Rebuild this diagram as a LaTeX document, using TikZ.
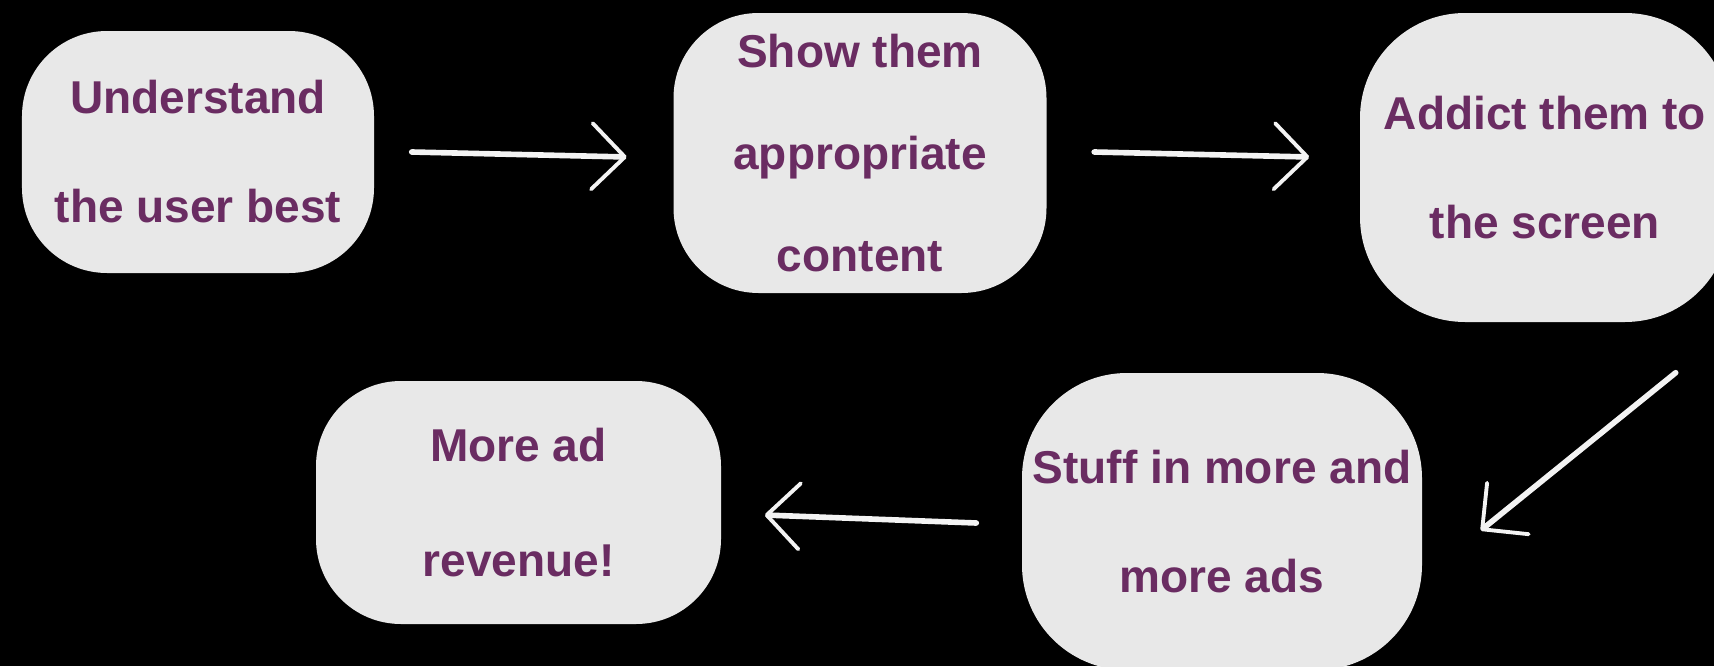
\documentclass[tikz,border=0pt]{standalone}
\usepackage{fontspec}
\setmainfont{Liberation Sans}
\usepackage{tikz}
\usetikzlibrary{arrows.meta}
\definecolor{boxgray}{RGB}{232,232,232}
\definecolor{adpurple}{RGB}{106,44,98}
\definecolor{chalk}{RGB}{243,243,243}

\begin{document}
\begin{tikzpicture}[
  stepbox/.style = {fill = boxgray, text = adpurple, rounded corners = 0.85cm, inner sep = 0pt,
    align = center, font = \fontsize{13.1pt}{31pt}\selectfont\bfseries},
  chalkarrow/.style = {chalk, line width = 1.6pt, line cap = round,
    -{Straight Barb[round, length = 0.33cm, width = 0.66cm, line width = 1.1pt]}}
 ]
 \fill[black] (0, 0) rectangle (17.14, 6.66);
 \useasboundingbox (0, 0) rectangle (17.14, 6.66);
 \node[stepbox, minimum width = 3.52cm, minimum height = 2.42cm] (understand) at (1.98, 5.14) {Understand\\the user best};
 \node[stepbox, minimum width = 3.73cm, minimum height = 2.80cm, font = \fontsize{13.1pt}{29pt}\selectfont\bfseries] (show) at (8.60, 5.13) {Show them\\appropriate\\content};
 \node[stepbox, minimum width = 3.70cm, minimum height = 3.09cm, rounded corners = 1.05cm] (addict) at (15.45, 4.985) {Addict them to\\the screen};
 \node[stepbox, minimum width = 4.00cm, minimum height = 2.97cm, rounded corners = 1.05cm] (stuff) at (12.22, 1.445) {Stuff in more and\\more ads};
 \node[stepbox, minimum width = 4.05cm, minimum height = 2.43cm, font = \fontsize{13.1pt}{32.5pt}\selectfont\bfseries] (revenue) at (5.185, 1.635) {More ad\\revenue!};
 \draw[chalkarrow] ([xshift = 0.37cm]understand.east) -- ([xshift = -0.46cm, yshift = -0.04cm]show.west);
 \draw[chalkarrow] ([xshift = 0.47cm, yshift = 0.01cm]show.east) -- ([xshift = -0.50cm, yshift = 0.105cm]addict.west);
 \draw[chalkarrow] ([xshift = -0.55cm, yshift = -0.50cm]addict.south east) -- ([xshift = 0.58cm, yshift = -0.09cm]stuff.east);
 \draw[chalkarrow] ([xshift = -0.45cm, yshift = -0.015cm]stuff.west) -- ([xshift = 0.43cm, yshift = -0.125cm]revenue.east);
\end{tikzpicture}
\end{document}
